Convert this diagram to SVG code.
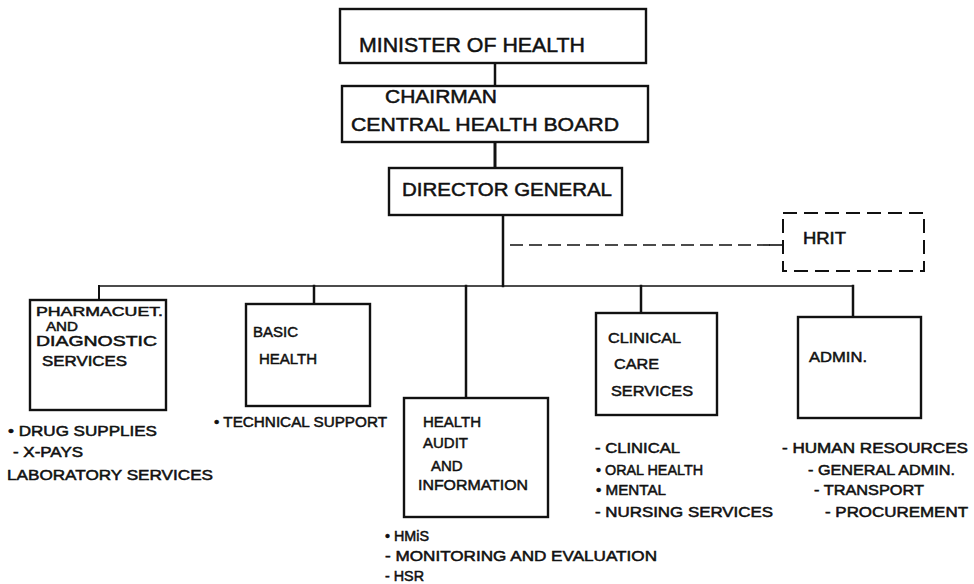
<svg xmlns="http://www.w3.org/2000/svg" width="974" height="584" viewBox="0 0 974 584">
  <style>
    .box { fill: #ffffff; stroke: #111111; stroke-width: 2.4; }
    .dash { fill: none; stroke: #111111; stroke-width: 2; stroke-dasharray: 14 7; }
    .ln { fill: none; stroke: #111111; stroke-linecap: square; }
    text { font-family: "Liberation Sans", Arial, sans-serif; fill: #111111; stroke: #111111; stroke-width: 0.5; }
    .t1 { font-size: 21px; }
    .t2 { font-size: 19px; }
    .t3 { font-size: 15px; }
    .t4 { font-size: 14px; }
    .t5 { font-size: 13px; }
  </style>
  <rect width="974" height="584" fill="#ffffff"/>

  <g id="connectors">
    <line class="ln" x1="495" y1="63" x2="495" y2="86" stroke-width="2.5"/>
    <line class="ln" x1="495" y1="142" x2="495" y2="168" stroke-width="3"/>
    <line class="ln" x1="503" y1="215" x2="503" y2="286" stroke-width="2.5"/>
    <line x1="510" y1="245" x2="770" y2="245" stroke="#111111" stroke-width="1.6" stroke-dasharray="13 6"/>
    <line class="ln" x1="770" y1="245" x2="783" y2="245" stroke-width="1.6"/>
    <line class="ln" x1="99" y1="286" x2="853" y2="286" stroke-width="1.6"/>
    <line class="ln" x1="99" y1="286" x2="99" y2="300" stroke-width="2"/>
    <line class="ln" x1="314" y1="286" x2="314" y2="304" stroke-width="2.5"/>
    <line class="ln" x1="466" y1="286" x2="466" y2="398" stroke-width="2.5"/>
    <line class="ln" x1="641" y1="286" x2="641" y2="313" stroke-width="2.5"/>
    <line class="ln" x1="853" y1="286" x2="853" y2="317" stroke-width="2.5"/>
  </g>

  <g id="minister">
    <rect class="box" x="340" y="9" width="306" height="54"/>
    <text class="t1" x="359" y="52" textLength="226" lengthAdjust="spacingAndGlyphs">MINISTER OF HEALTH</text>
  </g>

  <g id="chairman">
    <rect class="box" x="342" y="86" width="306" height="56"/>
    <text class="t2" x="385" y="103" textLength="112" lengthAdjust="spacingAndGlyphs">CHAIRMAN</text>
    <text class="t2" x="351" y="131" textLength="268" lengthAdjust="spacingAndGlyphs">CENTRAL HEALTH BOARD</text>
  </g>

  <g id="director-general">
    <rect class="box" x="389" y="168" width="233" height="47"/>
    <text class="t2" x="402" y="196" textLength="210" lengthAdjust="spacingAndGlyphs">DIRECTOR GENERAL</text>
  </g>

  <g id="hrit">
    <rect class="dash" x="783" y="213" width="141" height="58"/>
    <text x="803" y="244" font-size="16" textLength="43" lengthAdjust="spacingAndGlyphs">HRIT</text>
  </g>

  <g id="pharmaceutical">
    <rect class="box" x="30" y="300" width="136" height="110"/>
    <text class="t5" x="36" y="316" textLength="127" lengthAdjust="spacingAndGlyphs">PHARMACUET.</text>
    <text class="t5" x="46" y="331" textLength="32" lengthAdjust="spacingAndGlyphs">AND</text>
    <text class="t4" x="36" y="346" textLength="121" lengthAdjust="spacingAndGlyphs">DIAGNOSTIC</text>
    <text class="t4" x="42" y="366" textLength="85" lengthAdjust="spacingAndGlyphs">SERVICES</text>
    <text class="t4" x="8" y="436" textLength="149" lengthAdjust="spacingAndGlyphs">• DRUG SUPPLIES</text>
    <text class="t4" x="13" y="457" textLength="70" lengthAdjust="spacingAndGlyphs">- X-PAYS</text>
    <text class="t4" x="7" y="480" textLength="206" lengthAdjust="spacingAndGlyphs">LABORATORY SERVICES</text>
  </g>

  <g id="basic-health">
    <rect class="box" x="246" y="304" width="124" height="102"/>
    <text class="t3" x="253" y="337">BASIC</text>
    <text class="t3" x="259" y="364">HEALTH</text>
    <text class="t4" x="214" y="427" textLength="173" lengthAdjust="spacingAndGlyphs">• TECHNICAL SUPPORT</text>
  </g>

  <g id="health-audit">
    <rect class="box" x="404" y="398" width="144" height="119"/>
    <text class="t3" x="423" y="427">HEALTH</text>
    <text class="t3" x="423" y="448">AUDIT</text>
    <text class="t3" x="431" y="471">AND</text>
    <text class="t3" x="418" y="490" textLength="110" lengthAdjust="spacingAndGlyphs">INFORMATION</text>
    <text class="t4" x="385" y="541" textLength="44" lengthAdjust="spacingAndGlyphs">• HMiS</text>
    <text class="t4" x="385" y="561" textLength="272" lengthAdjust="spacingAndGlyphs">- MONITORING AND EVALUATION</text>
    <text class="t4" x="385" y="581" textLength="39" lengthAdjust="spacingAndGlyphs">- HSR</text>
  </g>

  <g id="clinical-care">
    <rect class="box" x="596" y="313" width="121" height="102"/>
    <text class="t3" x="608" y="343" textLength="73" lengthAdjust="spacingAndGlyphs">CLINICAL</text>
    <text class="t3" x="614" y="369" textLength="45" lengthAdjust="spacingAndGlyphs">CARE</text>
    <text class="t3" x="611" y="396" textLength="82" lengthAdjust="spacingAndGlyphs">SERVICES</text>
    <text class="t4" x="595" y="453" textLength="85" lengthAdjust="spacingAndGlyphs">- CLINICAL</text>
    <text class="t4" x="596" y="475" textLength="107" lengthAdjust="spacingAndGlyphs">• ORAL HEALTH</text>
    <text class="t4" x="596" y="495" textLength="70" lengthAdjust="spacingAndGlyphs">• MENTAL</text>
    <text class="t4" x="595" y="517" textLength="178" lengthAdjust="spacingAndGlyphs">- NURSING SERVICES</text>
  </g>

  <g id="admin">
    <rect class="box" x="798" y="317" width="123" height="101"/>
    <text class="t3" x="809" y="362" textLength="58" lengthAdjust="spacingAndGlyphs">ADMIN.</text>
    <text class="t4" x="782" y="453" textLength="186" lengthAdjust="spacingAndGlyphs">- HUMAN RESOURCES</text>
    <text class="t4" x="808" y="475" textLength="147" lengthAdjust="spacingAndGlyphs">- GENERAL ADMIN.</text>
    <text class="t4" x="814" y="495" textLength="110" lengthAdjust="spacingAndGlyphs">- TRANSPORT</text>
    <text class="t4" x="825" y="517" textLength="143" lengthAdjust="spacingAndGlyphs">- PROCUREMENT</text>
  </g>
</svg>
